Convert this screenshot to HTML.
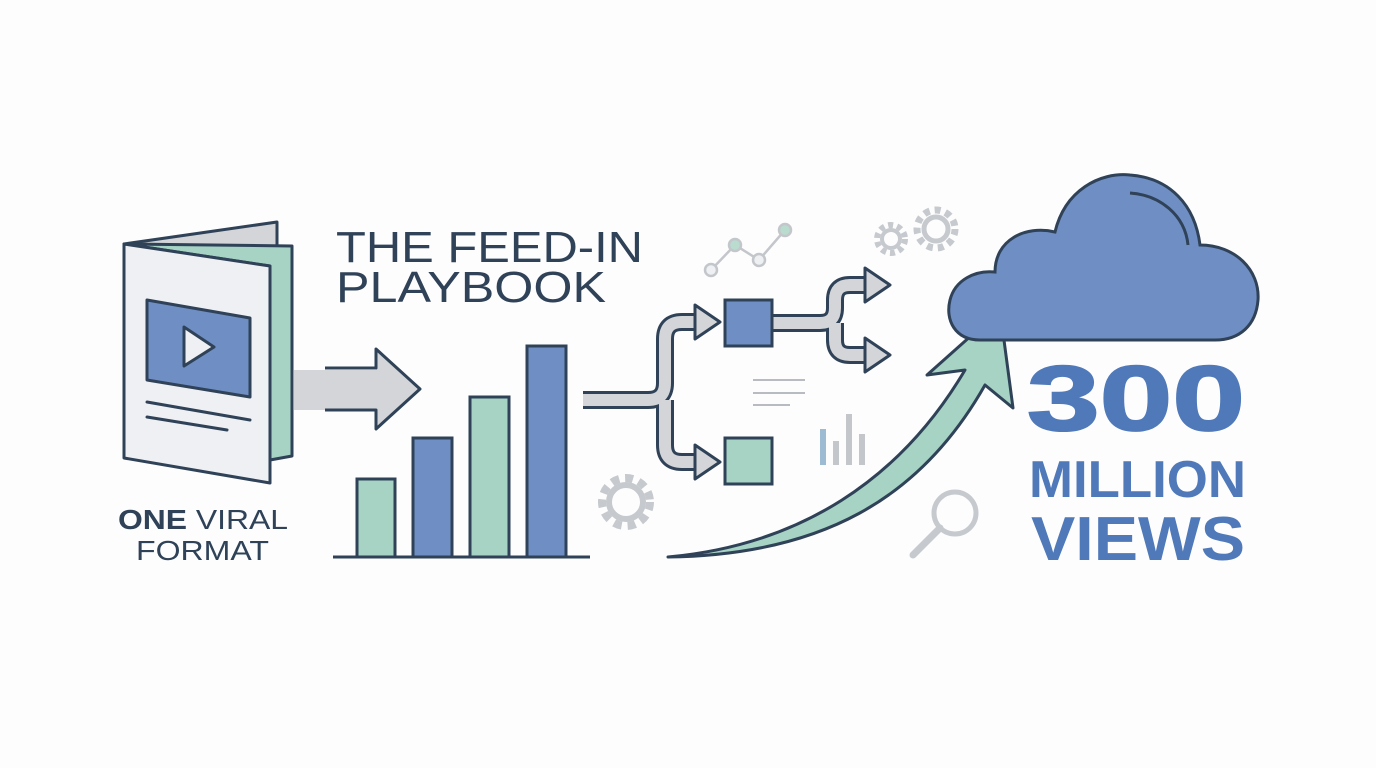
<!DOCTYPE html>
<html><head><meta charset="utf-8"><style>
html,body{margin:0;padding:0;background:#fdfdfe;}
svg{display:block}
text{font-family:"Liberation Sans","DejaVu Sans",sans-serif;}
</style></head><body>
<svg width="1376" height="768" viewBox="0 0 1376 768" xmlns="http://www.w3.org/2000/svg">
<rect width="1376" height="768" fill="#fdfdfe"/>
<g stroke="#2f4258" stroke-width="3" stroke-linejoin="round" stroke-linecap="round">
<polygon points="124,244 277,222 277,246 160,250" fill="#d3d5d8"/>
<polygon points="124,244 292,246 292,456 270,460 270,266" fill="#a6d3c4"/>
<polygon points="124,244 270,266 270,483 124,458" fill="#eef0f3"/>
<polygon points="147,300 250,318 250,397 147,380" fill="#6f8fc4"/>
<polygon points="184,327 214,347 184,366" fill="#eef0f3"/>
<line x1="147" y1="402" x2="250" y2="420"/>
<line x1="147" y1="417" x2="227" y2="430"/>
</g>
<polygon points="294,370 376,370 376,350 420,390 376,430 376,410 294,410" fill="#d3d5d8"/>
<polyline points="325,368 376,368 376,349 420,389 376,429 376,410 325,410" fill="none" stroke="#2f4258" stroke-width="3" stroke-linejoin="round"/>
<g stroke="#2f4258" stroke-width="3">
<rect x="357" y="479" width="38" height="78" fill="#a6d3c4"/>
<rect x="413" y="438" width="39" height="119" fill="#6f8fc4"/>
<rect x="470" y="397" width="39" height="160" fill="#a6d3c4"/>
<rect x="527" y="346" width="39" height="211" fill="#6f8fc4"/>
<line x1="333" y1="557" x2="590" y2="557"/>
</g>
<g fill="none" stroke-linejoin="round">
<path d="M583,400 H648 Q665,400 665,383 V339 Q665,322 682,322 H700 M665,400 V445 Q665,462 682,462 H700" stroke="#2f4258" stroke-width="18"/>
<path d="M583,400 H648 Q665,400 665,383 V339 Q665,322 682,322 H700 M665,400 V445 Q665,462 682,462 H700" stroke="#d3d5d8" stroke-width="12"/>
<path d="M772,323 H820 Q835,323 835,308 V300 Q835,285 850,285 H868 M835,323 V340 Q835,355 850,355 H868" stroke="#2f4258" stroke-width="18"/>
<path d="M772,323 H820 Q835,323 835,308 V300 Q835,285 850,285 H868 M835,323 V340 Q835,355 850,355 H868" stroke="#d3d5d8" stroke-width="12"/>
</g>
<g fill="#d3d5d8" stroke="#2f4258" stroke-width="3" stroke-linejoin="round">
<polygon points="695,305 720,322 695,339"/>
<polygon points="695,445 720,462 695,479"/>
<polygon points="865,268 890,285 865,302"/>
<polygon points="865,338 890,355 865,372"/>
</g>
<rect x="725" y="300" width="47" height="46" fill="#6f8fc4" stroke="#2f4258" stroke-width="3"/>
<rect x="725" y="438" width="47" height="46" fill="#a6d3c4" stroke="#2f4258" stroke-width="3"/>
<g stroke="#b8bcc2" stroke-width="2">
<line x1="753" y1="380" x2="805" y2="380"/><line x1="753" y1="393" x2="805" y2="393"/><line x1="753" y1="405" x2="790" y2="405"/>
</g>
<rect x="820" y="429" width="6" height="36" fill="#9dbcd4"/>
<rect x="833" y="441" width="6" height="24" fill="#c3c6ca"/>
<rect x="846" y="414" width="6" height="51" fill="#c3c6ca"/>
<rect x="859" y="434" width="6" height="31" fill="#c3c6ca"/>
<g stroke="#c3c6ca" stroke-width="2.5" fill="#eef0f3">
<polyline points="711,270 735,245 759,260 785,230" fill="none"/>
<circle cx="711" cy="270" r="6"/><circle cx="735" cy="245" r="6" fill="#b9dccf"/><circle cx="759" cy="260" r="6"/><circle cx="785" cy="230" r="6" fill="#b9dccf"/>
</g>
<g fill="none" stroke="#c6c9cd">
<circle cx="626" cy="502" r="24" stroke-width="8" stroke-dasharray="8 6"/>
<circle cx="626" cy="502" r="17" stroke-width="6"/>
<circle cx="891" cy="239" r="14" stroke-width="6" stroke-dasharray="5 4"/>
<circle cx="891" cy="239" r="9" stroke-width="4"/>
<circle cx="936" cy="229" r="19" stroke-width="7" stroke-dasharray="6 5"/>
<circle cx="936" cy="229" r="12" stroke-width="5"/>
<circle cx="955" cy="513" r="21" stroke-width="5"/>
<line x1="940" y1="528" x2="913" y2="555" stroke-width="7" stroke-linecap="round"/>
</g>
<path d="M668,557 C800,545 900,480 965,370 L927,375 L1000,310 L1013,408 L985,385 C920,500 820,555 668,557 Z" fill="#a6d3c4" stroke="#2f4258" stroke-width="3" stroke-linejoin="round"/>
<path d="M980,340 C955,340 945,320 950,300 C955,280 975,270 995,272 C995,240 1025,225 1055,232 C1065,190 1100,172 1130,175 C1170,178 1195,205 1200,245 C1235,245 1260,270 1258,300 C1256,325 1240,340 1215,340 Z" fill="#6f8fc4" stroke="#2f4258" stroke-width="3"/>
<path d="M1130,193 C1160,195 1185,215 1188,245" fill="none" stroke="#2f4258" stroke-width="3"/>
<text x="336" y="262" font-size="44" fill="#2f4258" textLength="307" lengthAdjust="spacingAndGlyphs">THE FEED-IN</text>
<text x="336" y="302" font-size="44" fill="#2f4258" textLength="270" lengthAdjust="spacingAndGlyphs">PLAYBOOK</text>
<text x="118" y="529" font-size="28" fill="#2f4258" textLength="170" lengthAdjust="spacingAndGlyphs"><tspan font-weight="bold">ONE</tspan> VIRAL</text>
<text x="136" y="560" font-size="28" fill="#2f4258" textLength="133" lengthAdjust="spacingAndGlyphs">FORMAT</text>
<text x="1027" y="430" font-size="92" font-weight="bold" fill="#4f79b8" stroke="#4f79b8" stroke-width="2" textLength="218" lengthAdjust="spacingAndGlyphs">300</text>
<text x="1029" y="497" font-size="52" font-weight="bold" fill="#4f79b8" textLength="217" lengthAdjust="spacingAndGlyphs">MILLION</text>
<text x="1031" y="560" font-size="62" font-weight="bold" fill="#4f79b8" textLength="214" lengthAdjust="spacingAndGlyphs">VIEWS</text>
</svg>
</body></html>
